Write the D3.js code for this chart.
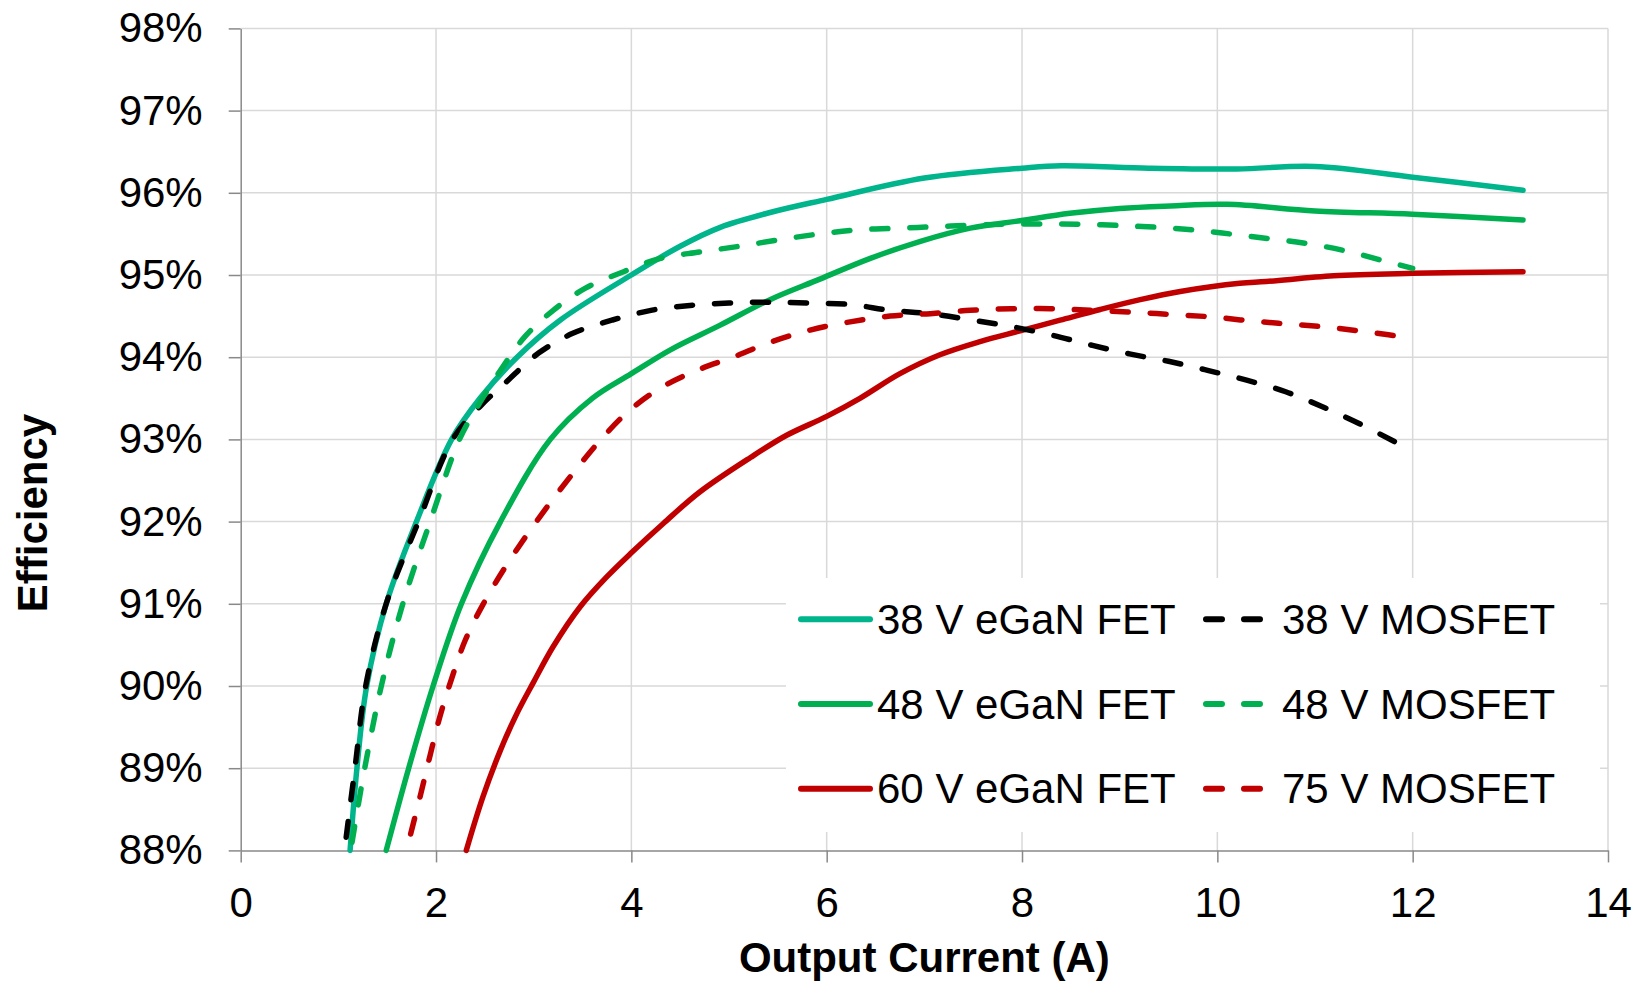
<!DOCTYPE html>
<meta charset="utf-8">
<style>

body {
  margin: 0;
  background: #fff;
}

text {
  font-family: "Liberation Sans", Arial, sans-serif;
  fill: #000;
}

.grid line {
  stroke: #d9d9d9;
  stroke-width: 1.5px;
}

.axis path,
.axis line {
  stroke: #898989;
  stroke-width: 1.5px;
}

.series {
  fill: none;
  stroke-width: 5.5px;
  stroke-linecap: round;
  stroke-linejoin: round;
}

.legend line {
  stroke-width: 6px;
}

</style>

<body>
<svg width="1648" height="982"></svg>
<script src="https://d3js.org/d3.v7.min.js"></script>

<script>

// values: [output current (A), efficiency (%)]
var egan38 = [[1.12,88],[1.19,89],[1.29,90],[1.49,91],[1.8,92],[2.16,93],[2.45,93.5],[2.83,94],[3.27,94.45],
  [4,95],[4.5,95.35],[4.91,95.58],[5.42,95.76],[6,95.92],[7,96.18],[8,96.3],[8.4,96.33],[9.3,96.3],[10.2,96.29],
  [11,96.32],[12,96.19],[13.13,96.03]]

var egan48 = [[1.49,88],[1.72,89],[1.97,90],[2.26,91],[2.66,92],[3.17,93],[3.6,93.5],[4,93.8],[4.4,94.09],
  [4.91,94.39],[5.42,94.7],[5.93,94.95],[6.44,95.2],[6.96,95.41],[7.47,95.57],[7.98,95.66],[8.49,95.75],[9,95.81],
  [9.52,95.84],[10.1,95.86],[11,95.78],[12,95.74],[13.13,95.67]]

var egan60 = [[2.31,88],[2.48,88.65],[2.66,89.22],[2.83,89.67],[3,90.05],[3.2,90.48],[3.48,90.97],[3.75,91.33],
  [4,91.62],[4.33,91.98],[4.7,92.36],[5.22,92.78],[5.59,93.05],[6,93.28],[6.34,93.5],[6.75,93.8],[7.16,94.03],
  [7.57,94.19],[7.98,94.32],[8.39,94.45],[8.8,94.58],[9.21,94.7],[9.62,94.8],[10.23,94.9],[10.5,94.92],
  [11.19,94.99],[12,95.02],[13.13,95.04]]

var mos38 = [[1.08,88.16],[1.17,89],[1.28,90],[1.49,91],[1.82,92],[2.17,93],[2.45,93.4],[2.72,93.7],[3.05,94.05],
  [3.4,94.29],[3.8,94.45],[4.2,94.57],[4.6,94.63],[5,94.66],[5.4,94.67],[5.8,94.66],[6.25,94.64],[6.65,94.57],
  [7.06,94.53],[7.5,94.45],[7.9,94.37],[8.3,94.27],[8.7,94.15],[9.1,94.04],[9.5,93.95],[9.9,93.84],[10.3,93.72],
  [10.7,93.58],[11.07,93.4],[11.44,93.2],[11.9,92.92]]

var mos48 = [[1.14,88.1],[1.27,89],[1.44,90],[1.66,91],[1.94,92],[2.24,93],[2.45,93.45],[2.66,93.84],[2.91,94.25],
  [3.2,94.57],[3.53,94.84],[3.92,95.04],[4.29,95.2],[4.7,95.28],[5.11,95.35],[5.52,95.43],[5.93,95.5],[6.34,95.55],
  [6.75,95.57],[7.16,95.59],[7.57,95.61],[7.98,95.62],[8.39,95.62],[8.82,95.61],[9.23,95.59],[9.64,95.56],
  [10.05,95.51],[10.47,95.45],[10.88,95.39],[11.29,95.3],[11.68,95.18],[12,95.08]]

var mos75 = [[1.74,88.2],[1.84,88.67],[1.94,89.16],[2.04,89.63],[2.16,90.09],[2.3,90.56],[2.48,90.99],[2.7,91.43],
  [2.92,91.82],[3.15,92.2],[3.41,92.6],[3.66,92.96],[3.95,93.32],[4.29,93.62],[4.67,93.84],[5.04,94],[5.44,94.19],
  [5.83,94.33],[6.24,94.43],[6.65,94.5],[7.06,94.53],[7.47,94.57],[7.88,94.59],[8.29,94.59],[8.7,94.57],[9.1,94.55],
  [9.52,94.52],[9.94,94.49],[10.35,94.44],[10.76,94.4],[11.17,94.36],[11.58,94.3],[12,94.23]]

var seriesNames = ["38 V eGaN FET", "48 V eGaN FET", "60 V eGaN FET", "38 V MOSFET", "48 V MOSFET", "75 V MOSFET"]
var seriesData = [egan38, egan48, egan60, mos38, mos48, mos75]
var seriesColors = ["#00b48c", "#00b050", "#c00000", "#000000", "#00b050", "#c00000"]
var seriesDashed = [false, false, false, true, true, true]

var yTicks = [88, 89, 90, 91, 92, 93, 94, 95, 96, 97, 98]
var xTicks = [0, 2, 4, 6, 8, 10, 12, 14]


var svg = d3.select("svg"),
    width = +svg.attr("width"),
    height = +svg.attr("height");

// plot box (not "top": that name is taken by window.top)
var pLeft = 240.7, pRight = 1608, pTop = 28.4, pBottom = 850.4
var fs = 42
var dash = "16 22"

var x = d3.scaleLinear().domain([0, 14]).range([pLeft, pRight])
var y = d3.scaleLinear().domain([88, 98]).range([pBottom, pTop])

// grid
var grid = svg.append("g").attr("class", "grid")
grid.selectAll(".h")
  .data(yTicks.slice(1))
  .enter().append("line")
    .attr("x1", pLeft).attr("x2", pRight)
    .attr("y1", d => y(d)).attr("y2", d => y(d))
grid.selectAll(".v")
  .data(xTicks.slice(1))
  .enter().append("line")
    .attr("x1", d => x(d)).attr("x2", d => x(d))
    .attr("y1", pTop).attr("y2", pBottom)

// legend box hides the grid behind it
svg.append("rect")
  .attr("x", 786).attr("y", 578)
  .attr("width", 1600 - 786).attr("height", 832 - 578)
  .attr("fill", "#fff")

// axes
svg.append("g")
  .attr("class", "axis")
  .attr("transform", "translate(" + pLeft + ",0)")
  .call(d3.axisLeft(y).tickValues(yTicks).tickSize(12).tickSizeOuter(0).tickPadding(26)
    .tickFormat(d => d + "%"))
svg.append("g")
  .attr("class", "axis")
  .attr("transform", "translate(0," + pBottom + ")")
  .call(d3.axisBottom(x).tickValues(xTicks).tickSize(12).tickSizeOuter(0).tickPadding(25))

svg.selectAll(".axis").attr("font-family", null).attr("font-size", null)
svg.selectAll(".axis text")
  .style("font-size", fs + "px")
  .style("fill", "#000")

// titles
svg.append("text")
  .attr("x", (pLeft + pRight) / 2).attr("y", 972)
  .attr("text-anchor", "middle")
  .style("font-size", fs + "px").style("font-weight", "bold")
  .text("Output Current (A)")

svg.append("text")
  .attr("transform", "translate(47,513) rotate(-90)")
  .attr("text-anchor", "middle")
  .style("font-size", fs + "px").style("font-weight", "bold")
  .text("Efficiency")

// lines
var line = d3.line()
  .x(d => x(d[0]))
  .y(d => y(d[1]))
  .curve(d3.curveCatmullRom.alpha(0.5))

svg.selectAll(".series")
  .data(seriesData)
  .enter().append("path")
    .attr("class", "series")
    .attr("d", line)
    .style("stroke", (d, i) => seriesColors[i])
    .style("stroke-dasharray", (d, i) => seriesDashed[i] ? dash : null)

// legend: two columns, eGaN left, MOSFET right
var legendRows = [619.3, 704, 788.7]
var legendCols = [801, 1206]

var lg = svg.selectAll(".legend")
  .data(seriesNames)
  .enter().append("g")
    .attr("class", "legend")
    .attr("transform", (d, i) => "translate(" + legendCols[Math.floor(i / 3)] + "," + legendRows[i % 3] + ")")

lg.append("line")
  .attr("class", "series")
  .attr("x1", 0).attr("x2", 69)
  .attr("y1", 0).attr("y2", 0)
  .style("stroke", (d, i) => seriesColors[i])
  .style("stroke-dasharray", (d, i) => seriesDashed[i] ? dash : null)

lg.append("text")
  .attr("x", 76)
  .attr("dy", "0.35em")
  .style("font-size", fs + "px")
  .text(d => d)

</script>
</body>
